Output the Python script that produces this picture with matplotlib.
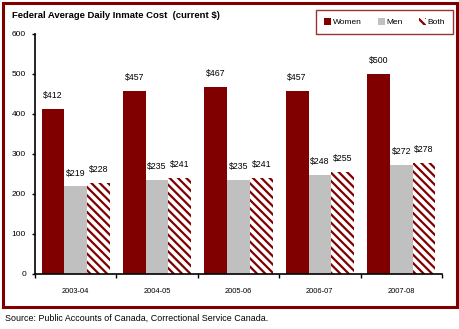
import matplotlib
matplotlib.use("Agg")
import matplotlib.pyplot as plt
import numpy as np
from matplotlib.patches import Rectangle

years = ["2003-04", "2004-05", "2005-06", "2006-07", "2007-08"]
women = [412, 457, 467, 457, 500]
men = [219, 235, 235, 248, 272]
both = [228, 241, 241, 255, 278]

DARK_RED = "#800000"
SILVER = "#C0C0C0"

plt.rcParams["font.family"] = ["Liberation Sans", "DejaVu Sans"]
plt.rcParams["hatch.linewidth"] = 1.6
plt.rcParams["hatch.color"] = DARK_RED

fig = plt.figure(figsize=(4.6, 3.29), dpi=100)
ax = fig.add_axes([35 / 460, 55 / 329, 407 / 460, 240 / 329])

x = np.arange(len(years))
w = 0.28
series = [
    (women, -w, dict(color=DARK_RED), "Women"),
    (men, 0, dict(color=SILVER), "Men"),
    (both, w, dict(facecolor="white", edgecolor=DARK_RED, hatch="\\\\\\\\", linewidth=0), "Both"),
]
handles = []
for vals, off, style, label in series:
    bars = ax.bar(x + off, vals, width=w, label=label, **style)
    handles.append(bars)
    for xi, v in zip(x + off, vals):
        ax.text(xi, v + 22, f"${v}", ha="center", va="bottom", fontsize=6.3)

ax.set_xlim(-0.5, len(years) - 0.5)
ax.set_ylim(0, 600)
ax.set_yticks(range(0, 601, 100))
ax.tick_params(axis="y", labelsize=6, length=2.5, width=1, pad=4)
ax.set_xticks(np.arange(-0.5, len(years), 1.0))
ax.set_xticklabels([])
ax.set_xticks(x, minor=True)
ax.set_xticklabels(years, minor=True, fontsize=5.4)
ax.tick_params(axis="x", which="major", length=3, width=1)
ax.tick_params(axis="x", which="minor", length=0, pad=10)
for s in ("top", "right"):
    ax.spines[s].set_visible(False)
for s in ("left", "bottom"):
    ax.spines[s].set_linewidth(1.2)

fig.text(12 / 460, 1 - 15 / 329, "Federal Average Daily Inmate Cost  (current $)",
         fontsize=6.8, fontweight="bold", va="center", ha="left")

leg = fig.legend(handles=handles, loc="upper right", bbox_to_anchor=(453 / 460, 1 - 10 / 329),
                 ncol=3, fontsize=6, frameon=True, fancybox=False,
                 handlelength=0.85, handleheight=0.85, handletextpad=0.2,
                 columnspacing=1.9, borderpad=0.95, borderaxespad=0)
leg.get_frame().set_edgecolor(DARK_RED)
leg.get_frame().set_linewidth(1.0)

fig.patches.append(Rectangle((3 / 460, 1 - 307 / 329), 454 / 460, 304 / 329,
                             transform=fig.transFigure, fill=False,
                             edgecolor=DARK_RED, linewidth=2.2))

fig.text(5 / 460, 1 - 318 / 329, "Source: Public Accounts of Canada, Correctional Service Canada.",
         fontsize=6.4, va="center", ha="left")

fig.savefig("out.png", dpi=100)
